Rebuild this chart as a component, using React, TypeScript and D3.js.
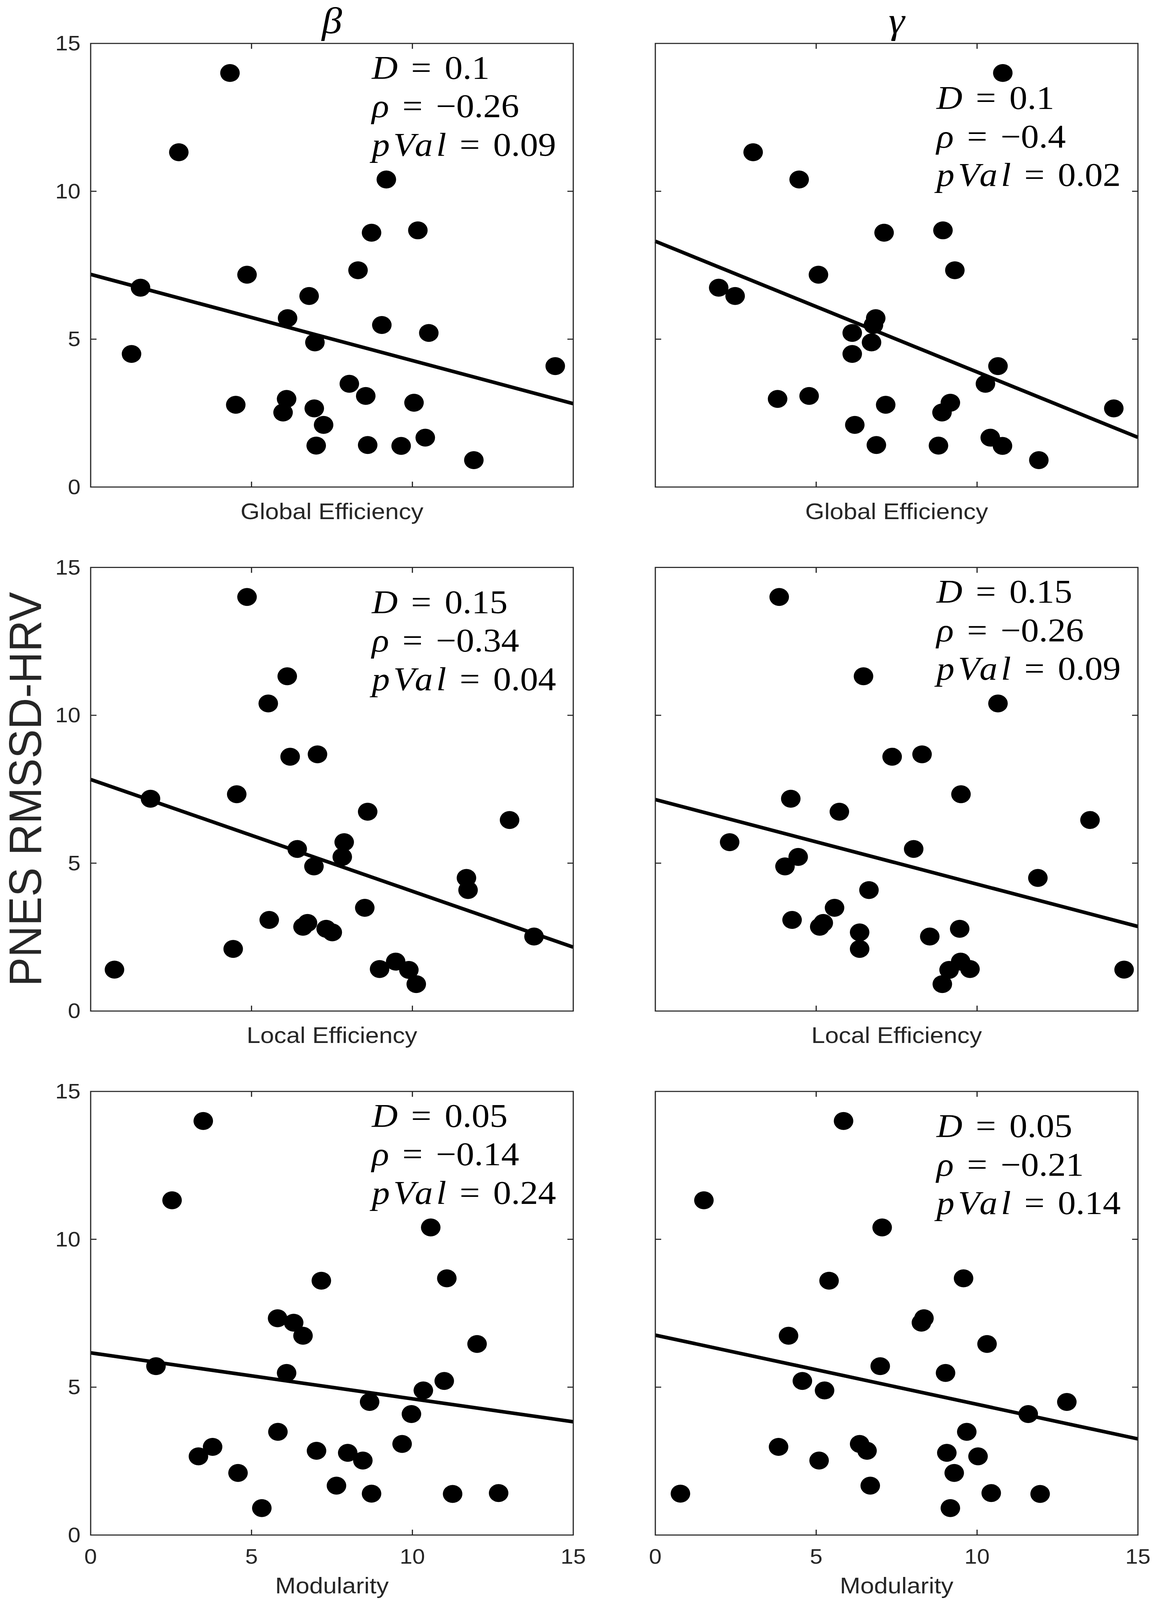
import * as d3 from 'd3';

// RMSSD-HRV of the PNES group (shared y of every panel), sorted high to low
const hrv = [
  14.0, 11.32, 10.4, 8.68, 8.6, 7.33, 7.18, 6.74, 6.46, 5.71, 5.48, 5.21, 4.89, 4.5,
  4.09, 3.49, 3.08, 2.98, 2.85, 2.78, 2.66, 2.52, 2.1, 1.67, 1.42, 1.4, 1.39, 0.91,
];

// x of every subject, same order as hrv
const betaGlobalX = [
  4.33, 2.74, 9.19, 10.17, 8.73, 8.31, 4.86, 1.55, 6.79, 6.12, 9.05, 10.51, 6.97, 1.27,
  14.44, 8.04, 8.55, 6.09, 10.05, 4.51, 6.95, 5.98, 7.24, 10.4, 8.61, 7.01, 9.65, 11.91,
];
const gammaGlobalX = [
  10.8, 3.04, 4.47, 8.94, 7.11, 9.31, 5.07, 1.97, 2.48, 6.85, 6.78, 6.12, 6.72, 6.12,
  10.65, 10.26, 4.78, 3.8, 9.17, 7.16, 14.25, 8.91, 6.2, 10.41, 6.87, 8.8, 10.79, 11.92,
];
const betaLocalX = [
  4.86, 6.11, 5.52, 7.05, 6.2, 4.54, 1.86, 8.61, 13.02, 7.88, 6.42, 7.82, 6.94, 11.68,
  11.73, 8.52, 5.55, 6.74, 6.6, 7.32, 7.51, 13.78, 4.43, 9.48, 8.98, 0.74, 9.89, 10.12,
];
const gammaLocalX = [
  3.85, 6.47, 10.65, 8.29, 7.36, 9.5, 4.21, 5.72, 13.51, 2.31, 8.03, 4.44, 4.03, 11.89,
  6.64, 5.57, 4.25, 5.22, 5.11, 9.46, 6.35, 8.53, 6.35, 9.49, 9.78, 14.57, 9.13, 8.92,
];
const betaModX = [
  3.5, 2.53, 10.57, 11.07, 7.17, 5.81, 6.31, 6.6, 12.01, 2.03, 6.09, 10.99, 10.34, 8.67,
  9.97, 5.82, 9.68, 3.79, 7.02, 7.99, 3.35, 8.46, 4.58, 7.64, 12.68, 8.73, 11.25, 5.32,
];
const gammaModX = [
  5.85, 1.51, 7.05, 9.58, 5.4, 8.35, 8.27, 4.14, 10.31, 6.99, 9.02, 4.57, 5.26, 12.79,
  11.59, 9.68, 6.35, 3.83, 6.58, 9.06, 10.03, 5.09, 9.29, 6.68, 10.44, 0.78, 11.96, 9.17,
];

// panel order: row by row, beta then gamma
const panelX = [betaGlobalX, gammaGlobalX, betaLocalX, gammaLocalX, betaModX, gammaModX];

// least-squares line, read as its value at x = 0 and x = 15
const fitStart = [7.19, 8.31, 7.83, 7.15, 6.16, 6.76];
const fitEnd = [2.82, 1.68, 2.16, 2.86, 3.83, 3.25];

const dValues = ['0.1', '0.1', '0.15', '0.15', '0.05', '0.05'];
const rhoValues = ['\u22120.26', '\u22120.4', '\u22120.34', '\u22120.26', '\u22120.14', '\u22120.21'];
const pValues = ['0.09', '0.02', '0.04', '0.09', '0.24', '0.14'];
const statsX = [8.74, 8.74, 8.74, 8.74, 8.74, 8.74];
const statsY = [13.8, 12.78, 13.45, 13.8, 13.8, 13.45];

const columnTitles = ['\u03B2', '\u03B3'];
const rowLabels = ['Global Efficiency', 'Local Efficiency', 'Modularity'];
const ticks = [0, 5, 10, 15];
const yTitle = 'PNES RMSSD-HRV';

const PAGE_W = 2948;
const PAGE_H = 4458;
const PLOT_W = 1235;
const PLOT_H = 1236;
const COL_X = [232, 1677];
const ROW_Y = [121, 1581, 3041];
const AXIS_COLOR = '#262626';
const SANS = '"Liberation Sans", Arial, sans-serif';
const SERIF = '"Liberation Serif", "Times New Roman", serif';

const x = d3.scaleLinear().domain([0, 15]).range([0, PLOT_W]);
const y = d3.scaleLinear().domain([0, 15]).range([PLOT_H, 0]);
const fitLine = d3
  .line<[number, number]>()
  .x((d) => x(d[0]))
  .y((d) => y(d[1]));

function Panel({ row, col }: { row: number; col: number }) {
  const i = row * 2 + col;
  const xs = panelX[i];
  const isBottom = row === 2;
  const isLeft = col === 0;
  const lineGap = 107;
  const eqGap = 34;

  return (
    <g transform={`translate(${COL_X[col]},${ROW_Y[row]})`}>
      {/* ticks on all four sides, pointing in */}
      {ticks.slice(1, 3).map((t) => (
        <g key={t} stroke={AXIS_COLOR} strokeWidth={3}>
          <line x1={x(t)} x2={x(t)} y1={PLOT_H} y2={PLOT_H - 15} />
          <line x1={x(t)} x2={x(t)} y1={0} y2={15} />
          <line x1={0} x2={15} y1={y(t)} y2={y(t)} />
          <line x1={PLOT_W} x2={PLOT_W - 15} y1={y(t)} y2={y(t)} />
        </g>
      ))}

      <path
        d={fitLine([
          [0, fitStart[i]],
          [15, fitEnd[i]],
        ])!}
        fill="none"
        stroke="#000"
        strokeWidth={10}
      />

      {xs.map((v, k) => (
        <circle key={k} cx={x(v)} cy={y(hrv[k])} r={25} fill="#000" />
      ))}

      <rect x={0} y={0} width={PLOT_W} height={PLOT_H} fill="none" stroke={AXIS_COLOR} strokeWidth={3} />

      {isLeft &&
        ticks.map((t) => (
          <text
            key={t}
            x={-26}
            y={y(t)}
            textAnchor="end"
            dominantBaseline="central"
            fontFamily={SANS}
            fontSize={58}
            fill={AXIS_COLOR}
          >
            {t}
          </text>
        ))}

      {isBottom &&
        ticks.map((t) => (
          <text
            key={t}
            x={x(t)}
            y={PLOT_H + 80}
            textAnchor="middle"
            fontFamily={SANS}
            fontSize={58}
            fill={AXIS_COLOR}
          >
            {t}
          </text>
        ))}

      <text
        x={PLOT_W / 2}
        y={PLOT_H + (isBottom ? 162 : 89)}
        textAnchor="middle"
        fontFamily={SANS}
        fontSize={63}
        fill={AXIS_COLOR}
      >
        {rowLabels[row]}
      </text>

      <g fontFamily={SERIF} fontSize={92} fill="#000">
        <text x={x(statsX[i])} y={y(statsY[i])}>
          <tspan fontStyle="italic">D</tspan>
          <tspan dx={eqGap}>=</tspan>
          <tspan dx={eqGap}>{dValues[i]}</tspan>
        </text>
        <text x={x(statsX[i])} y={y(statsY[i]) + lineGap}>
          <tspan fontStyle="italic">{'\u03C1'}</tspan>
          <tspan dx={eqGap}>=</tspan>
          <tspan dx={eqGap}>{rhoValues[i]}</tspan>
        </text>
        <text x={x(statsX[i])} y={y(statsY[i]) + lineGap * 2}>
          <tspan fontStyle="italic" letterSpacing={9}>
            pVal
          </tspan>
          <tspan dx={eqGap - 9}>=</tspan>
          <tspan dx={eqGap}>{pValues[i]}</tspan>
        </text>
      </g>
    </g>
  );
}

export default function App() {
  return (
    <svg
      viewBox={`0 0 ${PAGE_W} ${PAGE_H}`}
      preserveAspectRatio="none"
      style={{
        position: 'absolute',
        left: 0,
        top: 0,
        width: '100vw',
        height: '100vh',
        display: 'block',
        background: '#fff',
      }}
    >
      <rect width={PAGE_W} height={PAGE_H} fill="#fff" />
      {columnTitles.map((t, c) => (
        <text
          key={t}
          x={COL_X[c] + PLOT_W / 2}
          y={93}
          textAnchor="middle"
          fontFamily={SERIF}
          fontStyle="italic"
          fontSize={104}
          fill="#000"
        >
          {t}
        </text>
      ))}
      <text
        transform={`translate(105,${ROW_Y[1] + PLOT_H / 2}) rotate(-90)`}
        textAnchor="middle"
        fontFamily={SANS}
        fontSize={116}
        textLength={1099}
        lengthAdjust="spacingAndGlyphs"
        fill={AXIS_COLOR}
      >
        {yTitle}
      </text>
      {ROW_Y.map((_, r) =>
        COL_X.map((__, c) => <Panel key={`${r}-${c}`} row={r} col={c} />),
      )}
    </svg>
  );
}
